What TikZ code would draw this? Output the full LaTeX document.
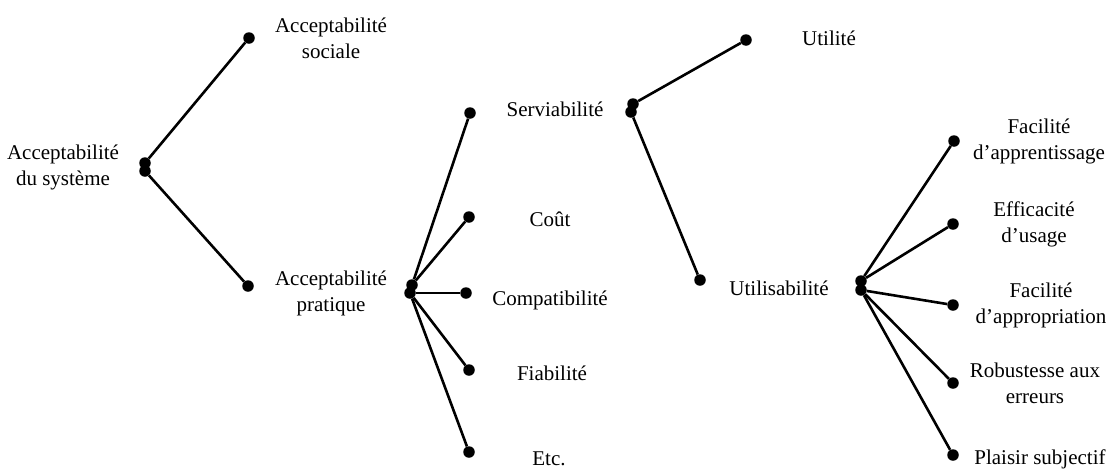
\documentclass[tikz,border=0pt]{standalone}
\usepackage{fontspec}
\setmainfont{Liberation Serif}
\usetikzlibrary{positioning}

\tikzset{
  dot/.style={circle,fill,inner sep=0pt,minimum size=11.5pt},
  lbl/.style={align=center,font=\fontsize{21}{26}\selectfont},
  branch/.style={line width=2.6pt}
}

\begin{document}
\begin{tikzpicture}[x=1pt,y=-1pt]
	\useasboundingbox (0,0) rectangle (1110,472);
	% root
	\node[lbl] (sys) at (63,167) {Acceptabilit\'e\\du syst\`eme};
	\node[dot] (sysA) at (145,163) {};
	\node[dot] (sysB) at (145,171) {};
	% first level
	\node[dot] (soc) at (249,38) {};
	\node[lbl] (socT) at (331,38) {Acceptabilit\'e\\sociale};
	\node[dot] (pra) at (248,286) {};
	\node[lbl] (praT) at (331,293) {Acceptabilit\'e\\pratique};
	\draw[branch] (sysA) -- (soc);
	\draw[branch] (sysB) -- (pra);
	% pratique
	\node[dot] (praA) at (412,285) {};
	\node[dot] (praB) at (410,293) {};
	\node[dot] (serv) at (470,113) {};
	\node[lbl] (servT) at (555,109) {Serviabilit\'e};
	\node[dot] (cout) at (469,217) {};
	\node[lbl] (coutT) at (550,219) {Co\^ut};
	\node[dot] (compat) at (466,293) {};
	\node[lbl] (compatT) at (550,300) {Compatibilit\'e};
	\node[dot] (fiab) at (469,370) {};
	\node[lbl] (fiabT) at (552,373) {Fiabilit\'e};
	\node[dot] (etc) at (469,452) {};
	\node[lbl] (etcT) at (549,459) {Etc.};
	\draw[branch] (praA) -- (serv);
	\draw[branch] (praA) -- (cout);
	\draw[branch] (praB) -- (compat);
	\draw[branch] (praB) -- (fiab);
	\draw[branch] (praB) -- (etc);
	% serviabilite
	\node[dot] (servA) at (633,104) {};
	\node[dot] (servB) at (631,112) {};
	\node[dot] (util) at (746,40) {};
	\node[lbl] (utilT) at (829,38) {Utilit\'e};
	\node[dot] (usab) at (700,280) {};
	\node[lbl] (usabT) at (779,288) {Utilisabilit\'e};
	\draw[branch] (servA) -- (util);
	\draw[branch] (servB) -- (usab);
	% utilisabilite
	\node[dot] (usabA) at (861,281) {};
	\node[dot] (usabB) at (861,290) {};
	\node[dot] (appr) at (954,141) {};
	\node[lbl] (apprT) at (1039,141) {Facilit\'e\\d'apprentissage};
	\node[dot] (eff) at (953,224) {};
	\node[lbl] (effT) at (1034,224) {Efficacit\'e\\d'usage};
	\node[dot] (appro) at (953,305) {};
	\node[lbl] (approT) at (1041,305) {Facilit\'e\\d'appropriation};
	\node[dot] (rob) at (953,383) {};
	\node[lbl] (robT) at (1035,383) {Robustesse aux\\erreurs};
	\node[dot] (plai) at (953,455) {};
	\node[lbl] (plaiT) at (1040,459) {Plaisir subjectif};
	\draw[branch] (usabA) -- (appr);
	\draw[branch] (usabA) -- (eff);
	\draw[branch] (usabB) -- (appro);
	\draw[branch] (usabB) -- (rob);
	\draw[branch] (usabB) -- (plai);
\end{tikzpicture}
\end{document}
